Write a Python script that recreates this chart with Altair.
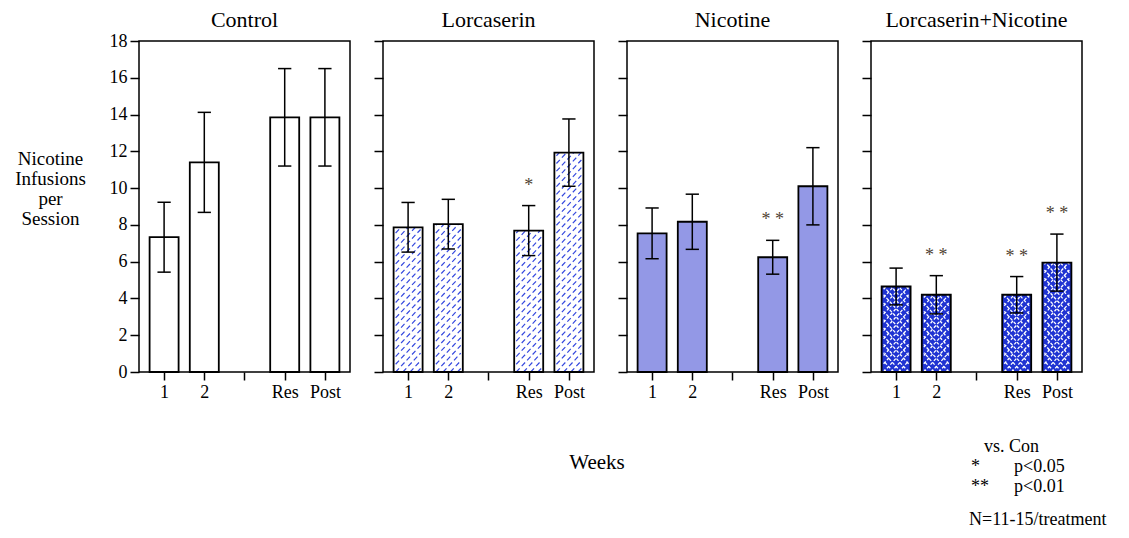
import altair as alt
import pandas as pd

# ---------------- data ----------------
panels = ["Control", "Lorcaserin", "Nicotine", "Lorcaserin+Nicotine"]
x_slots = ["1", "2", "", "Res", "Post"]
weeks = ["1", "2", "Res", "Post"]

control_mean = [7.33, 11.40, 13.85, 13.85]
control_sem = [1.90, 2.72, 2.65, 2.65]
lorc_mean = [7.87, 8.04, 7.69, 11.93]
lorc_sem = [1.35, 1.35, 1.36, 1.83]
nic_mean = [7.54, 8.17, 6.24, 10.10]
nic_sem = [1.38, 1.50, 0.92, 2.10]
combo_mean = [4.65, 4.20, 4.20, 5.95]
combo_sem = [1.00, 1.04, 0.99, 1.55]

control_sig = ["", "", "", ""]
lorc_sig = ["", "", "*", ""]
nic_sig = ["", "", "* *", ""]
combo_sig = ["", "* *", "* *", "* *"]

y_ticks = list(range(0, 19, 2))
y_title = ["Nicotine", "Infusions", "per", "Session"]
x_title = "Weeks"
legend_head = "vs. Con"
legend_marks = ["*", "**"]
legend_p = ["p<0.05", "p<0.01"]
n_note = "N=11-15/treatment"

# ---------------- table ----------------
rows = []
for name, ms, ss, gs in zip(
    panels,
    [control_mean, lorc_mean, nic_mean, combo_mean],
    [control_sem, lorc_sem, nic_sem, combo_sem],
    [control_sig, lorc_sig, nic_sig, combo_sig],
):
    for w, m, s, g in zip(weeks, ms, ss, gs):
        rows.append(dict(panel=name, week=w, pos=x_slots.index(w) + 1,
                         mean=m, lo=m - s, hi=m + s, sig=g))
df = pd.DataFrame(rows)

FONT = "Liberation Serif"
W, H = 211, 331
fills = {"Control": "white", "Lorcaserin": "white",
         "Nicotine": "#9398e6", "Lorcaserin+Nicotine": "#1f33d2"}
hatch_styles = {
    "Lorcaserin": [dict(color="#3448de", width=1.2, dash=[5, 3], step=0.42, rise=1.45, d=1)],
    "Lorcaserin+Nicotine": [
        dict(color="white", width=1.3, dash=[3, 2], step=0.45, rise=1.5, d=1),
        dict(color="white", width=1.3, dash=[3, 2], step=0.45, rise=1.5, d=-1),
    ],
}

label_expr = "[" + ",".join("'%s'" % s for s in x_slots) + "][datum.value - 1]"
x_scale = alt.Scale(domain=[0.5, len(x_slots) + 0.5], nice=False, zero=False)
y_scale = alt.Scale(domain=[0, 18], nice=False)


def text_layer(txt, x, y, size=18, align="left"):
    return alt.Chart(pd.DataFrame({"t": [txt]})).mark_text(
        font=FONT, fontSize=size, align=align, baseline="middle", color="black"
    ).encode(text="t:N", x=alt.value(x), y=alt.value(y))


def make_panel(i, name):
    d = df[df.panel == name]
    base = alt.Chart(d)
    x_axis = alt.Axis(values=list(range(1, len(x_slots) + 1)), labelExpr=label_expr,
                      title=None, grid=False, domain=False, tickSize=8, tickWidth=1.5,
                      tickColor="black", labelFont=FONT, labelFontSize=18,
                      labelColor="black", labelPadding=3)
    if i == 0:
        y_axis = alt.Axis(values=y_ticks, title=y_title, grid=False, domain=False,
                          tickSize=9, tickWidth=1.5, tickColor="black",
                          labelFont=FONT, labelFontSize=18, labelColor="black",
                          labelPadding=3, labelOverlap=False, titleAngle=0,
                          titleAlign="center", titleBaseline="middle",
                          titleX=-89, titleY=117, titleFont=FONT, titleFontSize=19,
                          titleFontWeight="normal", titleColor="black",
                          titleLineHeight=20)
    else:
        y_axis = alt.Axis(values=y_ticks, title=None, grid=False, domain=False,
                          labels=False, tickSize=9, tickWidth=1.5, tickColor="black")

    def X(f):
        return alt.X(f, scale=x_scale, axis=x_axis)

    def Y(f):
        return alt.Y(f, scale=y_scale, axis=y_axis)

    bars = base.mark_bar(size=29, fill=fills[name], strokeWidth=0).encode(
        x=X("pos:Q"), y=Y("mean:Q"))
    layers = [bars]
    hw = 0.31
    for hs in hatch_styles.get(name, []):
        step, rise, dr = hs["step"], hs["rise"], hs["d"]
        h = (base.transform_calculate(k="sequence(-6, 52)")
             .transform_flatten(["k"])
             .transform_calculate(y0="datum.k * %f" % step)
             .transform_calculate(ya="max(datum.y0, 0)")
             .transform_calculate(yb="min(datum.y0 + %f, datum.mean)" % rise)
             .transform_filter("datum.ya < datum.yb")
             .transform_calculate(xa="datum.pos + %d * (-%f + (datum.ya - datum.y0) / %f * %f)" % (dr, hw, rise, 2 * hw))
             .transform_calculate(xb="datum.pos + %d * (-%f + (datum.yb - datum.y0) / %f * %f)" % (dr, hw, rise, 2 * hw))
             .mark_rule(stroke=hs["color"], strokeWidth=hs["width"], strokeDash=hs["dash"])
             .encode(x=X("xa:Q"), x2="xb:Q", y=Y("ya:Q"), y2="yb:Q"))
        layers.append(h)
    outline = base.mark_bar(size=29, filled=False, stroke="black", strokeWidth=1.8).encode(
        x=X("pos:Q"), y=Y("mean:Q"))
    err = base.mark_rule(stroke="black", strokeWidth=1.5).encode(
        x=X("pos:Q"), y=Y("lo:Q"), y2="hi:Q")
    caps = base.transform_calculate(cl="datum.pos - 0.165", cr="datum.pos + 0.165")
    cap_hi = caps.mark_rule(stroke="black", strokeWidth=1.5).encode(
        x=X("cl:Q"), x2="cr:Q", y=Y("hi:Q"))
    cap_lo = caps.mark_rule(stroke="black", strokeWidth=1.5).encode(
        x=X("cl:Q"), x2="cr:Q", y=Y("lo:Q"))
    stars = base.transform_filter("datum.sig != ''").mark_text(
        font=FONT, fontSize=18, dy=-20, color="#4f4434", baseline="middle").encode(
        x=X("pos:Q"), y=Y("hi:Q"), text="sig:N")
    layers += [outline, err, cap_hi, cap_lo, stars]

    # panel heading
    layers.append(text_layer(name, W / 2, -21, size=22, align="center"))

    if name == "Lorcaserin":
        layers.append(text_layer(x_title, 214, 422, size=21, align="center"))
    if name == "Lorcaserin+Nicotine":
        layers.append(text_layer(legend_head, 113, 406))
        layers.append(text_layer(legend_marks[0], 100, 426))
        layers.append(text_layer(legend_p[0], 143, 426))
        layers.append(text_layer(legend_marks[1], 100, 446))
        layers.append(text_layer(legend_p[1], 143, 446))
        layers.append(text_layer(n_note, 98, 479))

    return alt.layer(*layers).properties(width=W, height=H)


chart = alt.hconcat(*[make_panel(i, p) for i, p in enumerate(panels)],
                    spacing=33, bounds="flush").properties(
    padding={"left": 5, "top": 0, "right": 0, "bottom": 0},
    background="white",
).configure_view(stroke="black", strokeWidth=1.5)

chart.save("out.html", embed_options={"renderer": "svg", "actions": False})
